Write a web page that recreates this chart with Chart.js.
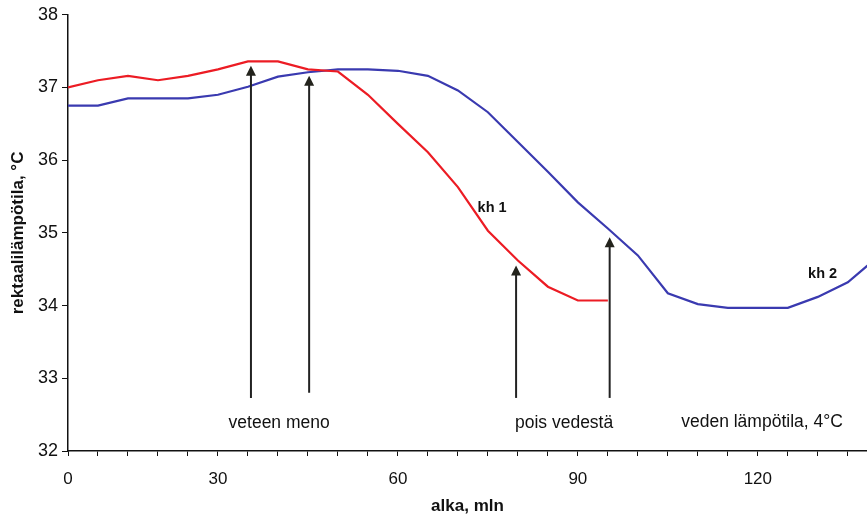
<!DOCTYPE html>
<html>
<head>
<meta charset="utf-8">
<script src="https://cdn.jsdelivr.net/npm/chart.js@4.4.0/dist/chart.umd.min.js"></script>
<style>
    html, body { margin: 0; padding: 0; background: #fff; overflow: hidden; }
    #wrap { width: 867px; height: 517px; position: relative; }
</style>
</head>
<body>
<div id="wrap"><canvas id="tempChart"></canvas></div>
<script>
// aika, min (5 min välein)
const minutes = [0, 5, 10, 15, 20, 25, 30, 35, 40, 45, 50, 55, 60, 65, 70, 75, 80, 85, 90, 95, 100, 105, 110, 115, 120, 125, 130, 135];
const kh1 = [37.00, 37.10, 37.16, 37.10, 37.16, 37.25, 37.36, 37.36, 37.25, 37.22, 36.90, 36.50, 36.11, 35.63, 35.03, 34.62, 34.26, 34.07, 34.07];
const kh2 = [36.75, 36.75, 36.85, 36.85, 36.85, 36.90, 37.01, 37.15, 37.21, 37.25, 37.25, 37.23, 37.16, 36.96, 36.66, 36.25, 35.84, 35.42, 35.06, 34.69, 34.17, 34.02, 33.97, 33.97, 33.97, 34.12, 34.32, 34.67];

// x-akselin tekstit (kuten alkuperäisessä kuvassa)
const xLabelAt = [0, 25, 55, 85, 115];
const xLabelText = ['0', '30', '60', '90', '120'];
const yTicks = [32, 33, 34, 35, 36, 37, 38];

// nuolet: aika, kärki, alapää
const arrowX = [30.5, 40.2, 74.7, 90.3];
const arrowTip = [37.30, 37.16, 34.55, 34.94];
const arrowBase = [32.73, 32.80, 32.73, 32.73];

// tekstit kuvaajassa
const noteText = ['veteen meno', 'pois vedestä', 'veden lämpötila, 4°C', 'kh 1', 'kh 2'];
const noteX = [35.2, 82.7, 115.7, 70.7, 125.8];
const noteY = [32.38, 32.38, 32.40, 35.34, 34.43];
const noteBold = [false, false, false, true, true];

const FONT = '"Liberation Sans", Arial, sans-serif';

const annotations = {
    id: 'annotations',
    afterDatasetsDraw(chart) {
        const ctx = chart.ctx;
        const xs = chart.scales.x;
        const ys = chart.scales.y;
        ctx.save();
        // nuolet
        for (let i = 0; i < arrowX.length; i++) {
            const x = xs.getPixelForValue(arrowX[i]);
            const tip = ys.getPixelForValue(arrowTip[i]);
            const base = ys.getPixelForValue(arrowBase[i]);
            ctx.strokeStyle = '#222';
            ctx.lineWidth = 2;
            ctx.beginPath();
            ctx.moveTo(x, base);
            ctx.lineTo(x, tip + 8);
            ctx.stroke();
            ctx.fillStyle = '#23231c';
            ctx.beginPath();
            ctx.moveTo(x, tip);
            ctx.lineTo(x - 5, tip + 10);
            ctx.lineTo(x + 5, tip + 10);
            ctx.closePath();
            ctx.fill();
        }
        // tekstit
        ctx.fillStyle = '#111';
        ctx.textAlign = 'center';
        ctx.textBaseline = 'middle';
        for (let i = 0; i < noteText.length; i++) {
            ctx.font = noteBold[i] ? 'bold 14.5px ' + FONT : '17.5px ' + FONT;
            ctx.fillText(noteText[i], xs.getPixelForValue(noteX[i]), ys.getPixelForValue(noteY[i]));
        }
        ctx.restore();
    }
};

new Chart(document.getElementById('tempChart'), {
    type: 'line',
    data: {
        datasets: [{
            label: 'kh 1',
            data: kh1.map((v, i) => ({ x: minutes[i], y: v })),
            borderColor: 'rgb(236, 28, 36)',
            borderWidth: 2.2,
            pointRadius: 0,
            tension: 0,
        }, {
            label: 'kh 2',
            data: kh2.map((v, i) => ({ x: minutes[i], y: v })),
            borderColor: 'rgb(58, 58, 176)',
            borderWidth: 2.2,
            pointRadius: 0,
            tension: 0,
        }]
    },
    options: {
        responsive: true,
        maintainAspectRatio: false,
        animation: false,
        layout: {
            padding: { top: 14, right: 0, left: 0, bottom: 0 }
        },
        plugins: {
            legend: { display: false },
            tooltip: { enabled: false },
        },
        scales: {
            x: {
                type: 'linear',
                min: 0,
                max: 133.2,
                afterBuildTicks: (scale) => {
                    scale.ticks = minutes.filter(m => m <= 133).map(m => ({ value: m }));
                },
                afterFit: (scale) => { scale.height = 517 - 451; },
                ticks: {
                    color: '#111',
                    font: { family: FONT, size: 17 },
                    padding: 13,
                    maxRotation: 0,
                    autoSkip: false,
                    callback: (value) => {
                        const k = xLabelAt.indexOf(value);
                        return k >= 0 ? xLabelText[k] : '';
                    }
                },
                grid: {
                    drawOnChartArea: false,
                    tickLength: 5,
                    color: '#111',
                },
                border: { color: '#111', width: 1.5 },
                title: {
                    display: true,
                    text: 'alka, mln',
                    color: '#111',
                    font: { family: FONT, size: 17, weight: 'bold' },
                    padding: { top: 0, bottom: 0 },
                }
            },
            y: {
                min: 32,
                max: 38,
                afterBuildTicks: (scale) => {
                    scale.ticks = yTicks.map(v => ({ value: v }));
                },
                afterFit: (scale) => { scale.width = 68; },
                ticks: {
                    color: '#111',
                    font: { family: FONT, size: 18 },
                    padding: 4,
                },
                grid: {
                    drawOnChartArea: false,
                    tickLength: 6,
                    color: '#111',
                },
                border: { color: '#111', width: 1.5 },
                title: {
                    display: true,
                    text: 'rektaalilämpötila, °C',
                    color: '#111',
                    font: { family: FONT, size: 17, weight: 'bold' },
                    padding: { top: 8, bottom: 0 },
                }
            }
        }
    },
    plugins: [annotations]
});
</script>
</body>
</html>
